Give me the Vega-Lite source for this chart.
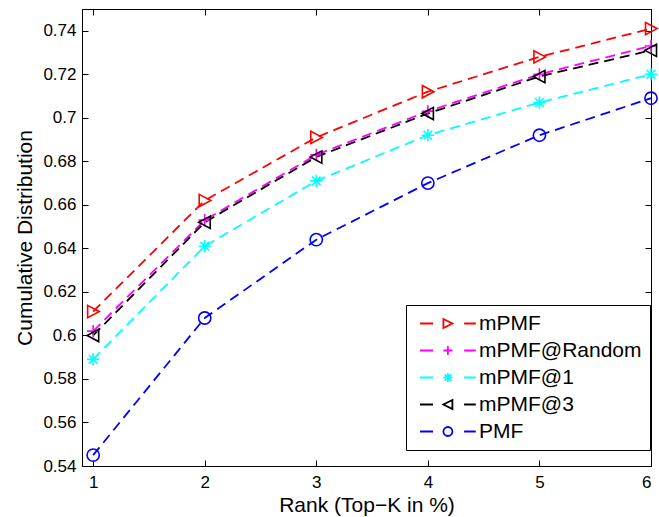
{
  "$schema": "https://vega.github.io/schema/vega-lite/v6.json",
  "autosize": "none",
  "width": 569,
  "height": 457,
  "padding": {"left": 82, "top": 9, "right": 8, "bottom": 51},
  "background": "white",
  "data": {
    "values": [
      {"rank": 1, "series": "mPMF", "value": 0.611},
      {"rank": 2, "series": "mPMF", "value": 0.662},
      {"rank": 3, "series": "mPMF", "value": 0.691},
      {"rank": 4, "series": "mPMF", "value": 0.712},
      {"rank": 5, "series": "mPMF", "value": 0.728},
      {"rank": 6, "series": "mPMF", "value": 0.741},
      {"rank": 1, "series": "mPMF@Random", "value": 0.602},
      {"rank": 2, "series": "mPMF@Random", "value": 0.653},
      {"rank": 3, "series": "mPMF@Random", "value": 0.683},
      {"rank": 4, "series": "mPMF@Random", "value": 0.703},
      {"rank": 5, "series": "mPMF@Random", "value": 0.72},
      {"rank": 6, "series": "mPMF@Random", "value": 0.733},
      {"rank": 1, "series": "mPMF@1", "value": 0.589},
      {"rank": 2, "series": "mPMF@1", "value": 0.641},
      {"rank": 3, "series": "mPMF@1", "value": 0.671},
      {"rank": 4, "series": "mPMF@1", "value": 0.692},
      {"rank": 5, "series": "mPMF@1", "value": 0.707},
      {"rank": 6, "series": "mPMF@1", "value": 0.72},
      {"rank": 1, "series": "mPMF@3", "value": 0.6},
      {"rank": 2, "series": "mPMF@3", "value": 0.652},
      {"rank": 3, "series": "mPMF@3", "value": 0.682},
      {"rank": 4, "series": "mPMF@3", "value": 0.702},
      {"rank": 5, "series": "mPMF@3", "value": 0.719},
      {"rank": 6, "series": "mPMF@3", "value": 0.731},
      {"rank": 1, "series": "PMF", "value": 0.545},
      {"rank": 2, "series": "PMF", "value": 0.608},
      {"rank": 3, "series": "PMF", "value": 0.644},
      {"rank": 4, "series": "PMF", "value": 0.67},
      {"rank": 5, "series": "PMF", "value": 0.692},
      {"rank": 6, "series": "PMF", "value": 0.709}
    ]
  },
  "layer": [
    {
      "mark": {"type": "line", "strokeDash": [10, 6], "strokeWidth": 1.8, "clip": true},
      "encoding": {
        "x": {
          "field": "rank", "type": "quantitative",
          "scale": {"domain": [0.9, 6], "nice": false, "zero": false},
          "axis": {"orient": "bottom", "values": [1, 2, 3, 4, 5, 6], "format": "d", "title": "Rank (Top−K in %)", "labelPadding": 14, "titlePadding": 4}
        },
        "y": {
          "field": "value", "type": "quantitative",
          "scale": {"domain": [0.54, 0.75], "nice": false, "zero": false},
          "axis": {"orient": "left", "values": [0.54, 0.56, 0.58, 0.6, 0.62, 0.64, 0.66, 0.68, 0.7, 0.72, 0.74], "format": ".2~f", "title": "Cumulative Distribution", "labelPadding": 12, "titlePadding": 7}
        },
        "color": {
          "field": "series", "type": "nominal",
          "scale": {
            "domain": ["mPMF", "mPMF@Random", "mPMF@1", "mPMF@3", "PMF"],
            "range": ["#ff0000", "#ff00ff", "#00ffff", "#000000", "#0000ff"]
          },
          "legend": {
            "title": null,
            "orient": "none",
            "legendX": 324,
            "legendY": 296,
            "symbolSize": 81,
            "symbolStrokeWidth": 1.8,
            "symbolFillColor": "transparent",
            "labelOffset": 44,
            "labelLimit": 220,
            "encode": {
              "symbols": {
                "update": {
                  "shape": {"signal": "datum.value === 'mPMF' ? 'M-1,0H1.9M8.8,0H11.4M4.2,-1L6.2,0L4.2,1Z' : datum.value === 'mPMF@Random' ? 'M-1,0H1.9M8.8,0H11.4M4.2,0H6.2M5.2,-1V1' : datum.value === 'mPMF@1' ? 'M-1,0H1.9M8.8,0H11.4M4.2,0H6.2M5.2,-1V1M4.5,-0.7L5.9,0.7M4.5,0.7L5.9,-0.7' : datum.value === 'mPMF@3' ? 'M-1,0H1.9M8.8,0H11.4M6.2,-1L4.2,0L6.2,1Z' : 'M-1,0H1.9M8.8,0H11.4M6.2,0A1,1,0,1,1,4.2,0A1,1,0,1,1,6.2,0Z'"},
                  "strokeDash": {"value": []},
                  "fill": {"value": "transparent"}
                }
              }
            }
          }
        }
      }
    },
    {
      "mark": {"type": "point", "filled": false, "strokeWidth": 1.6, "size": 150, "opacity": 1},
      "encoding": {
        "x": {"field": "rank", "type": "quantitative", "axis": {"orient": "top", "values": [1, 2, 3, 4, 5, 6], "labels": false, "title": null}},
        "y": {"field": "value", "type": "quantitative", "axis": {"orient": "right", "values": [0.54, 0.56, 0.58, 0.6, 0.62, 0.64, 0.66, 0.68, 0.7, 0.72, 0.74], "labels": false, "title": null}},
        "color": {"field": "series", "type": "nominal"},
        "shape": {
          "field": "series", "type": "nominal",
          "scale": {
            "domain": ["PMF", "mPMF", "mPMF@Random", "mPMF@1", "mPMF@3"],
            "range": [
              "M1,0A1,1,0,1,1,-1,0A1,1,0,1,1,1,0Z",
              "M-0.9,-1L1,0L-0.9,1Z",
              "M-1,0H1M0,-1V1",
              "M-1,0H1M0,-1V1M-0.7,-0.7L0.7,0.7M-0.7,0.7L0.7,-0.7",
              "M0.9,-1L-1,0L0.9,1Z"
            ]
          },
          "legend": null
        }
      }
    }
  ],
  "resolve": {"axis": {"x": "independent", "y": "independent"}},
  "config": {
    "view": {"stroke": "#000000", "strokeWidth": 1},
    "axis": {
      "grid": false,
      "domain": true,
      "domainColor": "#000000",
      "domainWidth": 1,
      "tickColor": "#000000",
      "tickWidth": 1,
      "tickSize": -6,
      "labelFont": "Liberation Sans",
      "labelFontSize": 17,
      "labelColor": "#000000",
      "titleFont": "Liberation Sans",
      "titleFontSize": 21,
      "titleFontWeight": "normal",
      "titleColor": "#000000"
    },
    "legend": {
      "labelFont": "Liberation Sans",
      "labelFontSize": 21,
      "labelColor": "#000000",
      "strokeColor": "#000000",
      "fillColor": "#ffffff",
      "padding": 8,
      "rowPadding": 5,
      "cornerRadius": 0
    }
  }
}
